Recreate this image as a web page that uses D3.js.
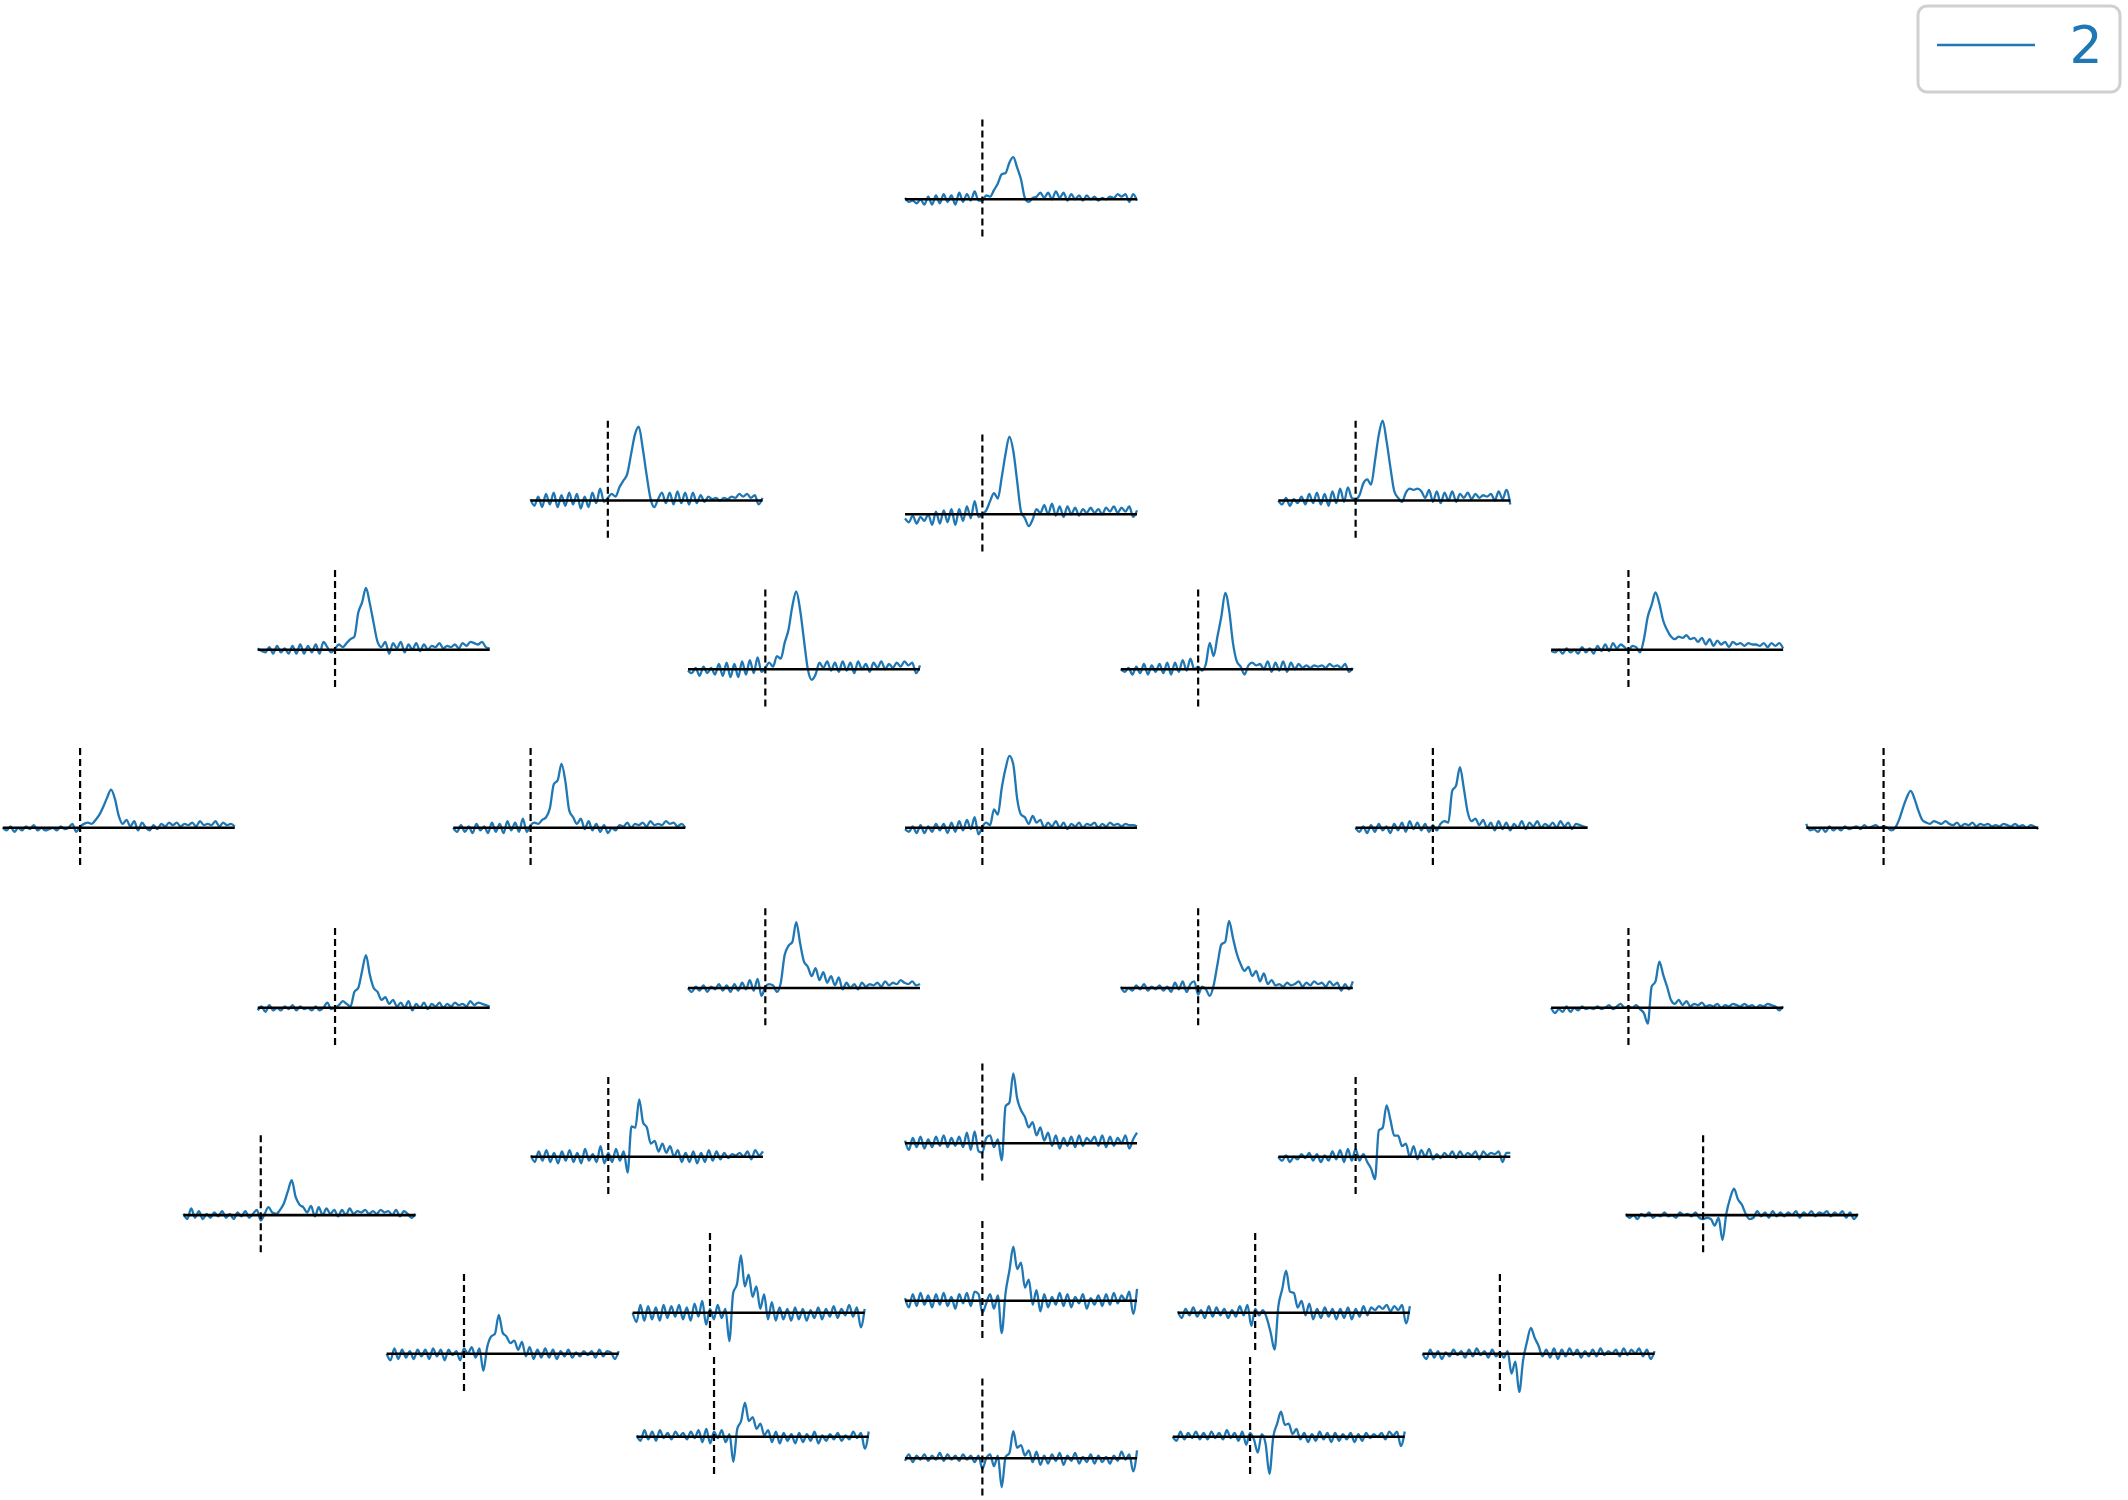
<!DOCTYPE html>
<html><head><meta charset="utf-8">
<script src="https://cdn.jsdelivr.net/npm/d3@7"></script>
<style>html,body{margin:0;padding:0;background:#fff;} svg{display:block;}</style>
</head><body>
<script>
// ---------------- data ----------------
const tmin = -0.2, tmax = 0.4;
const times = [-0.20,-0.19,-0.18,-0.17,-0.16,-0.15,-0.14,-0.13,-0.12,-0.11,
  -0.10,-0.09,-0.08,-0.07,-0.06,-0.05,-0.04,-0.03,-0.02,-0.01,
  0.00,0.01,0.02,0.03,0.04,0.05,0.06,0.07,0.08,0.09,0.10,
  0.11,0.12,0.13,0.14,0.15,0.16,0.17,0.18,0.19,0.20,
  0.21,0.22,0.23,0.24,0.25,0.26,0.27,0.28,0.29,0.30,
  0.31,0.32,0.33,0.34,0.35,0.36,0.37,0.38,0.39,0.40];

// sensor layout (fraction of figure): left and top of each small axes
const sensorLeft = [0.4253,0.2493,0.4253,0.6007,0.1211,0.3233,0.5267,0.7289,0.0013,0.2130,
  0.4253,0.6370,0.8488,0.1211,0.3233,0.5267,0.7289,0.0862,0.2495,0.4253,
  0.6007,0.7640,0.1817,0.2973,0.4253,0.5535,0.6685,0.2992,0.4253,0.5511];
const sensorTop = [0.0797,0.2805,0.2897,0.2805,0.3800,0.3930,0.3930,0.3800,0.4987,0.4987,
  0.4987,0.4987,0.4987,0.6187,0.6055,0.6055,0.6187,0.7569,0.7180,0.7090,
  0.7180,0.7569,0.8493,0.8220,0.8140,0.8220,0.8493,0.9047,0.9190,0.9047];

const ch01 = [0.1,-0.2,-0.1,-0.3,0.0,-0.4,0.2,-0.4,0.3,-0.3, 0.4,-0.2,0.3,-0.4,0.5,-0.2,0.4,-0.1,0.6,-0.1,
  -0.1,0.3,0.2,0.7,1.2,1.9,2.0,2.8,3.2,2.4,1.5, 0.1,-0.2,0.1,0.2,0.5,0.1,0.5,0.0,0.6,0.1,
  0.5,-0.1,0.4,0.0,0.3,-0.1,0.3,0.0,0.2,-0.1, 0.1,0.0,0.2,0.1,0.4,0.2,0.4,-0.2,0.4,-0.1];
const ch02 = [0.1,-0.4,0.3,-0.5,0.5,-0.3,0.6,-0.5,0.4,-0.4, 0.6,-0.3,0.5,-0.6,0.3,-0.5,0.6,-0.2,0.9,-0.1,
  0.2,0.5,0.3,1.0,1.5,2.0,3.5,5.0,5.6,4.0,2.0, 0.2,-0.5,0.1,0.6,-0.2,0.6,-0.3,0.7,-0.2,0.6,
  -0.3,0.6,-0.2,0.4,-0.1,0.3,0.1,0.2,0.0,0.2, 0.1,0.3,0.2,0.5,0.3,0.5,0.2,0.4,-0.3,0.2];
const ch03 = [-0.3,-0.6,-0.1,-0.7,-0.2,-0.5,0.0,-0.8,0.2,-0.7, 0.3,-0.6,0.4,-0.8,0.4,-0.5,0.6,-0.3,1.0,-0.2,
  0.0,0.3,1.0,1.6,1.2,2.8,4.6,5.9,4.8,2.5,0.2, -0.3,-0.9,-0.4,0.4,0.1,0.7,0.0,0.8,-0.1,0.6,
  -0.2,0.6,0.0,0.5,-0.1,0.4,0.1,0.5,0.1,0.4, 0.0,0.5,0.2,0.6,0.1,0.5,0.2,0.6,-0.2,0.3];
const ch04 = [0.0,-0.3,0.2,-0.4,0.1,-0.2,0.3,-0.3,0.5,-0.2, 0.6,-0.3,0.5,-0.4,0.7,-0.2,0.9,-0.1,1.0,0.2,
  0.1,0.4,1.3,1.6,1.2,3.0,5.0,6.05,4.5,2.5,0.7, 0.2,-0.1,0.6,0.9,0.8,0.9,0.7,0.2,0.8,-0.1,
  0.7,-0.2,0.6,0.0,0.7,-0.1,0.5,0.2,0.6,0.1, 0.5,0.2,0.4,0.3,0.5,0.0,0.7,0.1,0.8,-0.3];
const ch05 = [0.1,-0.1,-0.2,0.2,-0.3,0.3,-0.2,0.1,-0.3,0.3, -0.3,0.4,-0.3,0.3,-0.2,0.4,-0.3,0.6,0.2,-0.2,
  0.1,0.4,0.2,0.5,0.8,1.0,2.8,3.6,4.7,3.5,2.0, 0.6,0.2,0.6,-0.3,0.5,0.1,0.6,-0.2,0.4,0.0,
  0.5,-0.1,0.4,0.0,0.3,0.2,0.5,0.1,0.3,0.2, 0.4,0.1,0.5,0.3,0.6,0.5,0.4,0.6,0.2,0.1];
const ch06 = [-0.1,-0.3,0.1,-0.5,0.2,-0.3,0.1,-0.4,0.4,-0.5, 0.5,-0.6,0.4,-0.6,0.6,-0.4,0.7,-0.3,0.9,-0.2,
  0.1,0.5,0.2,1.0,0.8,2.0,3.0,4.8,5.9,4.5,2.2, 0.0,-0.8,-0.4,0.5,0.1,0.6,-0.1,0.5,-0.2,0.6,
  -0.1,0.5,-0.3,0.6,0.0,0.4,-0.2,0.5,0.1,0.6, 0.0,0.4,0.1,0.5,0.2,0.6,0.3,0.5,-0.3,0.3];
const ch07 = [0.0,-0.2,0.1,-0.4,0.2,-0.3,0.4,-0.4,0.3,-0.2, 0.4,-0.3,0.5,-0.4,0.5,-0.2,0.7,-0.1,0.8,0.0,
  0.2,-0.1,0.4,2.0,1.0,2.5,4.0,5.8,4.5,2.0,0.6, 0.2,-0.4,0.3,0.5,0.3,0.4,0.0,0.6,-0.2,0.5,
  -0.1,0.6,-0.2,0.5,0.0,0.4,0.1,0.3,0.1,0.3, 0.2,0.3,0.1,0.4,0.2,0.3,0.1,0.4,-0.2,0.1];
const ch08 = [-0.1,-0.2,0.0,-0.3,0.1,-0.2,0.0,-0.3,0.2,-0.2, 0.1,-0.3,0.3,-0.1,0.4,-0.1,0.5,0.1,0.4,0.2,
  -0.1,0.3,0.2,-0.2,0.8,2.5,3.4,4.35,3.5,2.2,1.5, 1.0,0.8,1.0,0.9,1.1,0.8,0.9,0.6,0.9,0.4,
  0.8,0.3,0.7,0.4,0.6,0.2,0.6,0.4,0.5,0.3, 0.5,0.4,0.4,0.3,0.5,0.2,0.5,0.3,0.5,0.1];
const ch09 = [0.0,-0.2,0.1,-0.3,0.0,-0.2,0.1,-0.1,0.2,-0.2, 0.0,-0.2,-0.1,0.0,-0.2,0.1,-0.1,0.0,0.3,-0.3,
  0.1,0.3,0.4,0.3,0.6,1.0,1.6,2.3,2.9,2.2,0.9, 0.3,0.6,0.1,0.5,-0.2,0.4,0.0,-0.2,0.2,-0.1,
  0.3,0.1,0.4,0.2,0.4,0.1,0.3,0.2,0.4,0.1, 0.5,0.2,0.3,0.2,0.5,0.1,0.4,0.2,0.3,0.1];
const ch10 = [0.0,-0.3,0.2,-0.3,0.1,-0.4,0.3,-0.2,0.1,-0.4, 0.4,-0.3,0.3,-0.4,0.5,-0.2,0.4,-0.3,0.7,-0.3,
  0.2,0.4,0.3,0.6,0.8,1.5,3.3,3.6,4.85,3.5,1.3, 0.8,0.3,0.7,-0.1,0.5,-0.2,0.3,-0.3,0.2,-0.4,
  0.0,-0.2,0.2,0.1,0.4,0.0,0.3,0.2,0.4,0.1, 0.5,0.2,0.3,0.2,0.5,0.3,0.4,0.1,0.3,0.0];
const ch11 = [-0.1,-0.3,0.1,-0.4,0.2,-0.4,0.1,-0.3,0.3,-0.2, 0.3,-0.4,0.4,-0.3,0.5,-0.2,0.6,-0.1,0.8,-0.5,
  0.1,0.4,0.2,1.4,1.0,3.0,4.5,5.45,4.8,2.2,1.0, 0.8,0.3,0.9,0.4,0.6,0.0,0.4,0.1,0.5,0.0,
  0.4,-0.1,0.3,0.1,0.4,0.0,0.3,0.2,0.4,0.0, 0.3,0.1,0.4,0.2,0.3,0.1,0.3,0.2,0.2,0.1];
const ch12 = [0.0,-0.3,0.1,-0.4,0.2,-0.3,0.3,-0.2,0.1,-0.4, 0.3,-0.2,0.4,-0.3,0.5,-0.1,0.4,-0.2,0.3,-0.3,
  0.2,-0.2,0.3,0.5,0.4,2.8,3.2,4.6,3.0,1.2,0.5, 0.7,0.2,0.6,0.0,0.4,-0.2,0.5,-0.1,0.4,-0.2,
  0.3,0.0,0.5,-0.1,0.4,0.1,0.5,0.0,0.3,0.1, 0.4,0.0,0.5,0.1,0.4,-0.1,0.3,0.2,0.1,0.0];
const ch13 = [0.3,-0.2,-0.1,-0.3,0.0,-0.3,0.1,-0.2,0.0,-0.2, 0.1,-0.1,0.0,0.1,-0.1,0.2,0.0,0.1,0.2,0.0,
  0.1,0.0,-0.2,0.0,0.6,1.5,2.3,2.8,2.2,1.3,0.6, 0.4,0.3,0.5,0.4,0.3,0.5,0.3,0.2,0.4,0.1,
  0.3,0.2,0.4,0.1,0.3,0.2,0.3,0.1,0.2,0.1, 0.3,0.2,0.1,0.3,0.1,0.2,0.0,0.2,0.1,-0.1];
const ch14 = [-0.2,0.1,-0.3,0.2,-0.2,0.0,-0.2,0.1,-0.1,0.2, -0.2,0.1,-0.1,0.0,-0.2,0.1,-0.2,0.0,0.4,-0.1,
  0.0,0.2,0.5,0.3,0.1,1.2,1.5,2.8,4.0,2.5,1.5, 1.2,0.6,0.8,0.3,0.6,0.1,0.4,0.0,0.5,-0.2,
  0.3,0.0,0.4,-0.1,0.3,0.1,0.4,0.0,0.3,0.1, 0.4,0.2,0.3,0.1,0.5,0.2,0.4,0.3,0.2,0.1];
const ch15 = [0.0,-0.3,0.1,-0.2,0.2,-0.3,0.1,-0.1,0.3,-0.2, 0.2,-0.3,0.3,-0.2,0.4,-0.1,0.6,-0.2,0.7,-0.6,
  0.1,0.3,0.2,-0.3,0.4,2.5,3.2,3.5,5.0,3.4,2.0, 1.6,0.9,1.5,0.6,1.2,0.4,0.9,0.2,0.8,-0.1,
  0.4,0.0,0.3,-0.1,0.4,0.1,0.3,0.2,0.4,0.1, 0.5,0.2,0.4,0.3,0.6,0.4,0.3,0.5,0.2,0.3];
const ch16 = [0.1,-0.3,0.0,-0.2,0.2,-0.1,0.3,-0.2,0.1,-0.1, 0.2,-0.2,0.1,-0.3,0.4,-0.1,0.5,-0.3,0.3,0.5,
  -0.5,0.1,-0.1,-0.6,0.2,1.8,3.3,3.5,5.1,3.8,2.6, 1.8,1.3,1.6,0.9,1.3,0.5,1.1,0.3,0.6,0.2,
  0.3,0.1,0.4,0.2,0.3,0.5,0.1,0.4,0.2,0.5, 0.3,0.4,0.1,0.5,0.2,0.4,-0.2,0.3,-0.1,0.5];
const ch17 = [0.0,-0.4,-0.1,-0.3,0.1,-0.3,0.0,-0.2,0.1,-0.1, 0.0,-0.1,0.1,-0.1,0.0,0.2,-0.1,0.1,0.3,0.0,
  0.1,0.0,0.2,-0.1,-0.4,-1.2,1.6,2.0,3.5,2.5,1.6, 0.6,0.3,0.6,0.2,0.5,0.1,0.3,0.2,0.4,0.1,
  0.2,0.1,0.3,0.0,0.2,0.1,0.3,0.2,0.1,0.3, 0.1,0.2,0.0,0.2,0.1,0.3,0.2,0.1,-0.2,0.1];
const ch18 = [0.1,-0.3,0.5,-0.2,0.3,-0.3,0.1,-0.2,0.2,-0.1, 0.3,-0.2,0.1,-0.3,0.2,-0.1,0.3,-0.2,0.1,0.4,
  -0.4,0.1,0.6,0.2,0.1,0.4,0.9,1.8,2.65,1.4,0.8, 0.6,0.2,0.7,-0.1,0.6,0.0,0.5,0.1,0.4,-0.1,
  0.4,0.0,0.5,0.1,0.3,0.2,0.4,0.1,0.3,0.1, 0.4,0.2,0.3,0.0,0.4,-0.1,0.3,0.1,-0.2,0.1];
const ch19 = [0.1,-0.4,0.4,-0.3,0.5,-0.4,0.3,-0.5,0.4,-0.3, 0.5,-0.4,0.3,-0.5,0.6,-0.3,0.2,-0.4,0.8,-0.5,
  0.3,-0.4,0.6,-0.3,0.4,-1.2,2.3,2.2,4.35,2.6,2.2, 1.0,1.2,0.4,1.0,0.3,0.8,0.0,0.5,-0.4,0.3,
  -0.4,0.4,-0.5,0.3,-0.4,0.5,-0.3,0.4,-0.2,0.3, -0.1,0.2,0.1,0.3,0.0,0.4,-0.2,0.5,0.1,0.4];
const ch20 = [0.2,-0.5,0.4,-0.3,0.5,-0.4,0.3,-0.3,0.5,-0.2, 0.6,-0.3,0.4,-0.2,0.5,-0.3,0.8,-0.5,0.9,-0.6,
  -0.7,0.4,0.6,-0.3,0.3,-1.3,2.8,3.1,5.3,3.4,2.5, 2.0,1.2,1.6,0.6,1.2,0.2,0.8,-0.2,0.6,-0.4,
  0.4,-0.2,0.5,-0.3,0.6,-0.2,0.4,0.1,0.5,-0.2, 0.6,-0.3,0.5,-0.2,0.4,0.0,0.6,-0.4,0.3,0.8];
const ch21 = [0.0,-0.3,0.1,-0.4,0.0,-0.2,0.2,-0.1,0.3,-0.3, 0.2,-0.4,0.1,-0.3,0.4,-0.2,0.5,-0.4,0.6,-0.3,
  0.6,-0.3,0.2,-0.4,-0.9,-1.7,2.0,2.2,3.9,2.8,1.6, 1.6,0.8,1.0,0.0,0.8,-0.2,0.5,0.0,0.6,-0.2,
  0.2,-0.1,0.3,0.0,0.4,-0.1,0.4,0.0,0.3,0.1, 0.4,-0.2,0.4,0.1,0.3,0.2,0.4,-0.4,0.3,0.3];
const ch22 = [0.1,-0.2,0.0,-0.3,0.1,-0.1,0.2,-0.2,0.0,-0.1, 0.2,-0.1,0.0,-0.2,0.2,0.0,0.1,-0.1,0.2,-0.2,
  -0.3,-0.2,-0.3,-0.8,-0.2,-1.9,0.1,1.3,2.0,1.2,0.8, 0.1,-0.3,-0.2,0.3,-0.1,0.2,-0.2,0.3,-0.1,0.2,
  -0.1,0.2,0.0,0.3,-0.2,0.2,0.0,0.3,-0.1,0.2, 0.1,0.3,-0.1,0.2,0.0,0.3,-0.2,0.2,-0.3,0.1];
const ch23 = [0.0,-0.5,0.4,-0.4,0.3,-0.3,0.2,-0.4,0.3,-0.2, 0.3,-0.4,0.4,-0.2,0.3,-0.5,0.3,-0.1,0.2,-0.5,
  0.4,0.0,0.5,-0.3,0.4,-1.3,0.5,1.3,1.5,2.95,1.6, 1.3,0.8,1.0,0.3,0.9,-0.2,0.5,-0.4,0.3,-0.3,
  0.4,-0.3,0.3,-0.4,0.2,-0.2,0.3,-0.3,0.1,-0.2, 0.2,-0.1,0.2,-0.3,0.3,-0.2,0.2,0.1,-0.4,0.2];
const ch24 = [0.0,-0.7,0.6,-0.6,0.5,-0.5,0.4,-0.6,0.6,-0.4, 0.5,-0.3,0.6,-0.5,0.4,-0.6,0.7,-0.3,0.9,-0.9,
  0.3,-0.5,0.6,-0.4,0.3,-2.15,1.5,2.2,4.35,2.0,2.9, 1.2,2.0,0.3,1.4,-0.5,0.8,-0.6,0.4,-0.5,0.3,
  -0.6,0.4,-0.5,0.3,-0.6,0.2,-0.4,0.4,-0.5,0.3, -0.3,0.5,-0.4,0.3,-0.2,0.6,-0.3,0.4,-1.1,0.3];
const ch25 = [0.2,-0.5,0.5,-0.4,0.6,-0.3,0.4,-0.5,0.5,-0.3, 0.6,-0.4,0.3,-0.6,0.5,-0.2,0.6,-0.4,0.7,0.5,
  -0.9,-0.2,0.5,-0.6,0.4,-2.45,0.6,2.3,4.1,2.4,2.9, 1.0,1.6,-0.3,0.8,-0.8,0.5,-0.5,0.3,-0.3,0.6,
  -0.4,0.5,-0.5,0.3,-0.2,0.5,-0.6,0.2,-0.3,0.4, -0.4,0.5,-0.3,0.6,-0.2,0.4,0.0,0.7,-1.0,0.9];
const ch26 = [0.1,-0.4,0.3,-0.2,0.4,-0.3,0.2,-0.4,0.5,-0.3, 0.4,-0.2,0.3,-0.4,0.2,-0.3,0.5,-0.2,0.6,-1.0,
  0.3,-0.2,0.2,-0.4,-1.5,-2.8,0.5,1.8,3.2,1.6,1.5, 0.4,0.9,-0.2,0.7,-0.5,0.3,-0.4,0.4,-0.3,0.3,
  -0.5,0.3,-0.4,0.4,-0.5,0.3,-0.3,0.5,-0.2,0.4, 0.2,0.5,0.3,0.6,0.1,0.5,0.2,0.6,-0.8,0.5];
const ch27 = [0.0,-0.4,0.3,-0.3,0.2,-0.4,0.1,-0.2,0.3,-0.1, 0.2,-0.3,0.3,-0.2,0.4,-0.1,0.2,-0.3,0.3,-0.2,
  0.1,-0.3,0.2,-1.5,-0.6,-2.9,-0.5,0.9,1.95,1.2,0.6, -0.2,0.3,-0.3,0.4,-0.4,0.3,-0.2,0.4,-0.1,0.3,
  -0.3,0.2,-0.2,0.3,-0.2,0.4,-0.1,0.2,0.0,0.3, -0.2,0.4,-0.1,0.3,0.0,0.4,-0.2,0.3,-0.4,0.2];
const ch28 = [0.1,-0.3,0.5,-0.2,0.4,-0.3,0.5,-0.1,0.3,-0.2, 0.4,0.0,0.3,-0.2,0.4,-0.1,0.5,-0.4,0.6,-0.5,
  0.4,-0.1,0.5,-0.4,0.2,-1.9,0.6,1.2,2.6,1.2,1.5, 0.6,1.0,0.1,0.5,-0.4,0.4,-0.5,0.3,-0.3,0.2,
  -0.5,0.3,-0.4,0.2,-0.3,0.4,-0.5,0.1,-0.3,0.2, -0.2,0.3,-0.3,0.1,-0.2,0.4,-0.1,0.3,-0.9,0.4];
const ch29 = [-0.2,0.3,-0.3,0.2,-0.1,0.3,-0.2,0.2,-0.1,0.4, -0.2,0.3,-0.1,0.2,-0.2,0.3,-0.1,0.2,-0.3,0.2,
  -0.8,0.0,0.3,-0.6,0.2,-2.2,0.1,0.4,2.05,0.8,1.0, 0.2,0.6,-0.3,0.5,-0.5,0.2,-0.4,0.3,-0.2,0.4,
  -0.5,0.2,-0.2,0.4,-0.4,0.1,-0.3,0.3,-0.4,0.2, -0.3,0.1,-0.4,0.2,-0.2,0.5,-0.1,0.3,-1.0,0.6];
const ch30 = [0.0,-0.3,0.4,-0.2,0.3,-0.1,0.4,-0.2,0.3,-0.2, 0.4,-0.1,0.3,-0.2,0.5,-0.1,0.3,-0.3,0.4,-0.6,
  0.3,-0.2,-1.2,0.2,-0.5,-2.8,0.0,1.0,1.9,0.9,1.0, 0.2,0.6,-0.2,0.3,-0.4,0.2,-0.3,0.4,-0.2,0.3,
  -0.4,0.3,-0.3,0.2,-0.2,0.3,-0.4,0.2,-0.3,0.3, -0.1,0.2,0.0,0.3,-0.2,0.4,0.1,0.4,-0.7,0.4];

const channels = [ch01,ch02,ch03,ch04,ch05,ch06,ch07,ch08,ch09,ch10,
  ch11,ch12,ch13,ch14,ch15,ch16,ch17,ch18,ch19,ch20,
  ch21,ch22,ch23,ch24,ch25,ch26,ch27,ch28,ch29,ch30];
const legendLabels = ['2'];

// ---------------- drawing ----------------
const W = 2128, H = 1500;
const color = '#1f77b4';
const axW = 232, axH = 118;

const svg = d3.select('body').append('svg')
  .attr('width', W).attr('height', H)
  .attr('viewBox', `0 0 ${W} ${H}`);
svg.append('rect').attr('width', W).attr('height', H).attr('fill', '#fff');

const figX = d3.scaleLinear().domain([0, 1]).range([0, W]);
const figY = d3.scaleLinear().domain([0, 1]).range([0, H]);

const allVals = channels.flat();
const ylim = d3.extent(allVals);

const x = d3.scaleLinear().domain([tmin, tmax]).range([0, axW]);
const y = d3.scaleLinear().domain(ylim).range([axH, 0]);

const line = d3.line()
  .x(d => x(d[0])).y(d => y(d[1]))
  .curve(d3.curveMonotoneX);

channels.forEach((vals, i) => {
  const g = svg.append('g')
    .attr('transform', `translate(${figX(sensorLeft[i])},${figY(sensorTop[i])})`);
  const n = Math.min(vals.length, times.length);
  const pts = d3.range(n).map(k => [times[k], vals[k]]);
  g.append('path').attr('d', line(pts))
    .attr('fill', 'none').attr('stroke', color)
    .attr('stroke-width', 2.3).attr('stroke-linejoin', 'round');
  // zero line
  g.append('line')
    .attr('x1', x(tmin)).attr('x2', x(tmax))
    .attr('y1', y(0)).attr('y2', y(0))
    .attr('stroke', '#000').attr('stroke-width', 2.6);
  // stimulus onset
  g.append('line')
    .attr('x1', x(0)).attr('x2', x(0))
    .attr('y1', 0).attr('y2', axH)
    .attr('stroke', '#000').attr('stroke-width', 2.2)
    .attr('stroke-dasharray', '7,4');
});

// legend
const lg = svg.append('g');
lg.append('rect')
  .attr('x', 1918).attr('y', 6).attr('width', 202).attr('height', 86)
  .attr('rx', 9).attr('ry', 9)
  .attr('fill', '#fff').attr('stroke', '#d0d0d0').attr('stroke-width', 3);
legendLabels.forEach((lab, i) => {
  lg.append('line')
    .attr('x1', 1937).attr('x2', 2035)
    .attr('y1', 45 + i * 60).attr('y2', 45 + i * 60)
    .attr('stroke', color).attr('stroke-width', 2.3);
  lg.append('text')
    .attr('x', 2086).attr('y', 63 + i * 60)
    .attr('text-anchor', 'middle')
    .attr('font-family', 'DejaVu Sans')
    .attr('font-size', 52)
    .attr('fill', color)
    .text(lab);
});
</script>
</body></html>
